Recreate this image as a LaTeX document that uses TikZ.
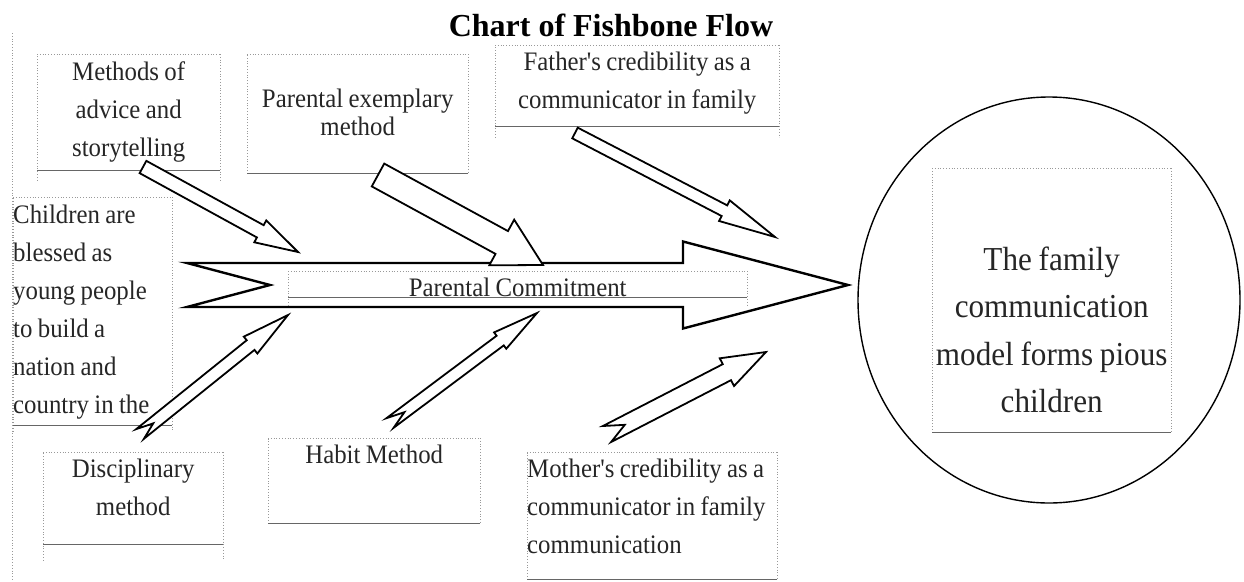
\documentclass[tikz,border=0pt]{standalone}
\usepackage{fontspec}
\setmainfont{Liberation Serif}
\newfontfamily\bodyfont[FakeStretch=0.93]{Liberation Serif}
\usetikzlibrary{calc,shapes.geometric}

% block arrow: tail, tip, half shaft, half head, head length, notch
\newcommand\bone[7][]{%
  \draw[bonepath,#1] let \p1=($(#3)-(#2)$), \n1={atan2(\y1,\x1)}, \n2={veclen(\x1,\y1)} in
    [shift={(#2)}, rotate=\n1]
    (0pt,#4pt) -- ({\n2*1pt-#6pt},#4pt) -- ({\n2*1pt-#6pt},#5pt) -- ({\n2*1pt},0pt)
    -- ({\n2*1pt-#6pt},-#5pt) -- ({\n2*1pt-#6pt},-#4pt) -- (0pt,-#4pt) -- (#7pt,0pt) -- cycle;
}

\begin{document}
\begin{tikzpicture}[x=1pt, y=-1pt,
  txt/.style={inner sep=0pt, anchor=north west, align=center, text=black!85,
    font=\bodyfont\fontsize{26.7}{38}\selectfont,
    execute at begin node={\spaceskip=0.2em\relax}},
  side/.style={draw=black!40, dotted, line width=0.8pt},
  footline/.style={draw=black!60, line width=0.9pt},
  wordframe/.style={append after command={
    ([yshift=-#1]\tikzlastnode.south west) edge[side] (\tikzlastnode.north west)
    (\tikzlastnode.north west) edge[side] (\tikzlastnode.north east)
    (\tikzlastnode.north east) edge[side] ([yshift=-#1]\tikzlastnode.south east)
    (\tikzlastnode.south west) edge[footline] (\tikzlastnode.south east)}},
  wordframe/.default=0pt,
  bonepath/.style={draw=black, fill=white, line width=1.8pt, line join=miter},
  spine/.style={line width=2.4pt},
]
\useasboundingbox (0,0) rectangle (1244,581);
\draw[side] (12,33) -- (12,581);

\node[anchor=base, font=\fontsize{32}{38}\selectfont\bfseries] (title) at (611,36) {Chart of Fishbone Flow};

% causes above the spine
\node[txt, wordframe=10pt, text width=183pt, text height=26pt, text depth=90pt] (advice) at (37,54)
  {Methods of\\advice and\\storytelling};
\node[txt, wordframe, text width=221pt, text height=53pt, text depth=66pt,
  font=\bodyfont\fontsize{26.7}{28}\selectfont] (example) at (247,54) {Parental exemplary\\method};
\node[txt, wordframe=11pt, text width=284pt, text height=25pt, text depth=56pt] (father) at (495,45)
  {Father's credibility as a\\communicator in family};

% causes below the spine
\node[txt, wordframe=6pt, align=left, text width=159pt, text height=26pt, text depth=202pt] (blessed) at (13,197)
  {Children are\\blessed as\\young people\\to build a\\nation and\\country in the};
\node[txt, wordframe=16pt, text width=180pt, text height=25pt, text depth=67pt] (discipline) at (43,452)
  {Disciplinary\\method};
\node[txt, wordframe, text width=212pt, text height=25pt, text depth=60pt] (habit) at (268,438)
  {Habit Method};
\node[txt, wordframe, align=left, text width=250pt, text height=25pt, text depth=102pt] (mother) at (527,452)
  {Mother's credibility as a\\communicator in family\\communication};

% effect
\node[draw, ellipse, line width=1.4pt, minimum width=382pt, minimum height=406pt, inner sep=0pt] (goal) at (1049,300) {};
\node[txt, wordframe, text width=239pt, text height=102pt, text depth=162pt,
  font=\bodyfont\fontsize{33.5}{47.5}\selectfont] (model) at (932,168)
  {The family\\communication\\model forms pious\\children};

% spine
\coordinate (spineT) at (187,285);
\coordinate (spineH) at (848,285);
\bone[spine]{spineT}{spineH}{22}{43.5}{165}{83}
\node[txt, wordframe=8pt, text width=459pt, text height=25pt, text depth=1pt] (commit) at (288,271)
  {Parental Commitment};

% bones
\coordinate (adviceT) at (143,167);   \coordinate (adviceH) at (298,252);
\coordinate (exampleT) at (378,175);  \coordinate (exampleH) at (543,265);
\coordinate (fatherT) at (575,133);   \coordinate (fatherH) at (775,237);
\coordinate (blessedT) at (140,434);  \coordinate (blessedH) at (288,315);
\coordinate (habitT) at (390,423);    \coordinate (habitH) at (537,313);
\coordinate (motherT) at (607,434);   \coordinate (motherH) at (766,352);

\bone{adviceT}{adviceH}{7}{12.5}{43}{0}
\bone{exampleT}{exampleH}{13}{26}{47}{0}
\bone{fatherT}{fatherH}{6}{11.6}{57}{0}
\bone{blessedT}{blessedH}{6.2}{10.8}{48}{17}
\bone{habitT}{habitH}{6}{10.2}{46}{18}
\bone{motherT}{motherH}{9}{15.6}{44}{20}
\end{tikzpicture}
\end{document}
